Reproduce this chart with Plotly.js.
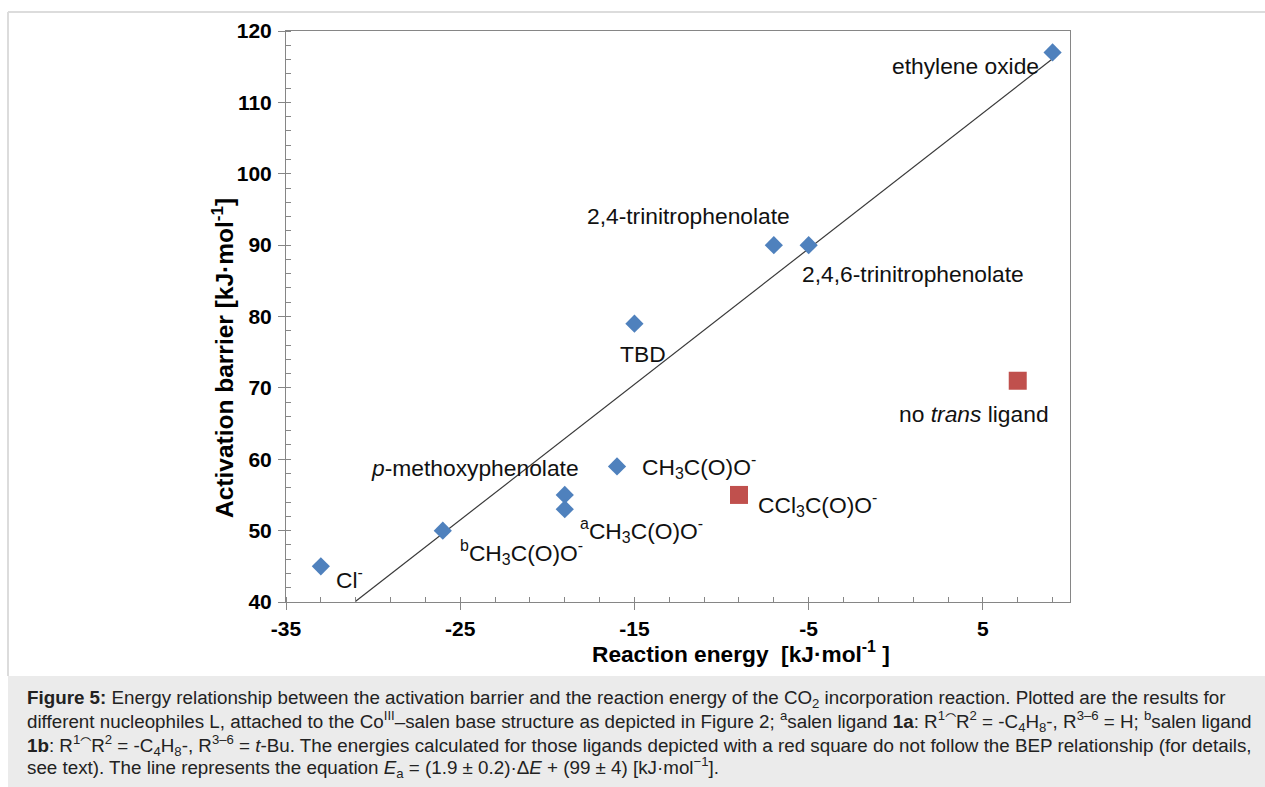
<!DOCTYPE html>
<html>
<head>
<meta charset="utf-8">
<script src="https://cdn.plot.ly/plotly-3.0.1.min.js"></script>
<style>
html,body{margin:0;padding:0;background:#fff;}
#chart{width:1265px;height:787px;}
</style>
</head>
<body>
<div id="chart"></div>
<script>
// ---- data ----
const fitNames = ["Cl<sup>-</sup>", "<sup>b</sup>CH<sub>3</sub>C(O)O<sup>-</sup>", "<sup>a</sup>CH<sub>3</sub>C(O)O<sup>-</sup>",
  "<i>p</i>-methoxyphenolate", "CH<sub>3</sub>C(O)O<sup>-</sup>", "TBD", "2,4-trinitrophenolate",
  "2,4,6-trinitrophenolate", "ethylene oxide"];
const fitEnergy  = [-33, -26, -19, -19, -16, -15, -7, -5, 9];
const fitBarrier = [45, 50, 53, 55, 59, 79, 90, 90, 117];

const outNames   = ["CCl<sub>3</sub>C(O)O<sup>-</sup>", "no <i>trans</i> ligand"];
const outEnergy  = [-9, 7];
const outBarrier = [55, 71];

const lineEnergy  = [-31, 9];
const lineBarrier = [40.1, 116.1];

const xTicks = [-35, -25, -15, -5, 5];
const xTickText = ["-35", "-25", "-15", "-5", "5"];
const yTicks = [40, 50, 60, 70, 80, 90, 100, 110, 120];

// ---- label placement (pixel offsets from each point) ----
const fitLabelPos = [
  {xa:'left',  dx:13, dy:-12},
  {xa:'left',  dx:15, dy:-22},
  {xa:'left',  dx:13, dy:-21},
  {xa:'right', dx:16, dy:27},
  {xa:'left',  dx:23, dy:0},
  {xa:'center',dx:9,  dy:-30},
  {xa:'right', dx:18, dy:29},
  {xa:'left',  dx:-9, dy:-29},
  {xa:'right', dx:-12,dy:-14}
];
const outLabelPos = [
  {xa:'left',  dx:17, dy:-10},
  {xa:'right', dx:33, dy:-33}
];

const FONT = "Liberation Sans, Arial, sans-serif";
const L = 286, R = 1070, T = 31, B = 602, W = 1265, H = 787;
const px = x => (x - L) / (R - L);
const py = y => (B - y) / (B - T);

const annotations = [];
fitNames.forEach((t, i) => annotations.push({
  x: fitEnergy[i], y: fitBarrier[i], xref: 'x', yref: 'y', text: t, showarrow: false,
  xanchor: fitLabelPos[i].xa, yanchor: 'middle', xshift: fitLabelPos[i].dx, yshift: fitLabelPos[i].dy,
  font: {family: FONT, size: 22.8, color: '#111'}
}));
outNames.forEach((t, i) => annotations.push({
  x: outEnergy[i], y: outBarrier[i], xref: 'x', yref: 'y', text: t, showarrow: false,
  xanchor: outLabelPos[i].xa, yanchor: 'middle', xshift: outLabelPos[i].dx, yshift: outLabelPos[i].dy,
  font: {family: FONT, size: 22.8, color: '#111'}
}));

// axis titles
annotations.push({xref:'paper', yref:'paper', x: px(741), y: py(652), text:'<b>Reaction energy  [kJ·mol<sup>-1</sup> ]</b>',
  showarrow:false, xanchor:'center', yanchor:'middle', font:{family:FONT, size:22.7, color:'#000'}});
annotations.push({xref:'paper', yref:'paper', x: px(222), y: py(358), text:'<b>Activation barrier [kJ·mol<sup>-1</sup>]</b>',
  showarrow:false, xanchor:'center', yanchor:'middle', textangle:-90, font:{family:FONT, size:24.5, color:'#000'}});

// caption
const captionLines = [
  "<b>Figure 5:</b> Energy relationship between the activation barrier and the reaction energy of the CO<sub>2</sub> incorporation reaction. Plotted are the results for",
  "different nucleophiles L, attached to the Co<sup>III</sup>–salen base structure as depicted in Figure 2; <sup>a</sup>salen ligand <b>1a</b>: R<sup>1</sup>⁀R<sup>2</sup> = -C<sub>4</sub>H<sub>8</sub>-, R<sup>3–6</sup> = H; <sup>b</sup>salen ligand",
  "<b>1b</b>: R<sup>1</sup>⁀R<sup>2</sup> = -C<sub>4</sub>H<sub>8</sub>-, R<sup>3–6</sup> = <i>t</i>-Bu. The energies calculated for those ligands depicted with a red square do not follow the BEP relationship (for details,",
  "see text). The line represents the equation <i>E</i><sub>a</sub> = (1.9 ± 0.2)·Δ<i>E</i> + (99 ± 4) [kJ·mol<sup>−1</sup>]."
];
const captionY = [699, 721, 745, 767];
captionLines.forEach((t, i) => annotations.push({
  xref:'paper', yref:'paper', x: px(25), y: py(captionY[i]), text: t, showarrow:false,
  xanchor:'left', yanchor:'middle', font:{family:FONT, size:18.8, color:'#222'}
}));

const shapes = [
  {type:'rect', xref:'paper', yref:'paper', x0:px(8), x1:px(W+5), y0:py(676), y1:py(H+5),
   fillcolor:'#ebebeb', line:{width:0}, layer:'below'},
  {type:'line', xref:'paper', yref:'paper', x0:px(8), x1:px(W+5), y0:py(12), y1:py(12),
   line:{color:'#dcdcdc', width:2}},
  {type:'line', xref:'paper', yref:'paper', x0:px(8), x1:px(8), y0:py(12), y1:py(676),
   line:{color:'#dcdcdc', width:2}}
];

const traces = [
  {x: lineEnergy, y: lineBarrier, mode:'lines', line:{color:'#3a3a3a', width:1.2}, hoverinfo:'skip'},
  {x: fitEnergy, y: fitBarrier, mode:'markers', marker:{symbol:'diamond', size:14, color:'#4f81bd'}},
  {x: outEnergy, y: outBarrier, mode:'markers', marker:{symbol:'square', size:18, color:'#c0504d'}}
];

const axisCommon = {
  showgrid:false, zeroline:false, showline:true, linecolor:'#868686', linewidth:1, mirror:true,
  ticks:'outside', ticklen:7, tickcolor:'#868686', tickwidth:1,
  tickfont:{family:FONT, size:21, color:'#000', weight:'bold'}
};

const layout = {
  width: W, height: H,
  margin: {l: L, r: W - R, t: T, b: H - B},
  paper_bgcolor:'#fff', plot_bgcolor:'#fff',
  showlegend:false,
  xaxis: Object.assign({}, axisCommon, {
    range:[-35, 10], tickmode:'array', tickvals:xTicks, ticktext:xTickText, ticklabelstandoff:1,
    minor:{dtick:2, tick0:-35, ticks:'inside', ticklen:5, tickcolor:'#868686', showgrid:false}
  }),
  yaxis: Object.assign({}, axisCommon, {
    range:[40, 120], tickmode:'array', tickvals:yTicks, ticklabelstandoff:2,
    minor:{dtick:2, tick0:40, ticks:'inside', ticklen:5, tickcolor:'#868686', showgrid:false}
  }),
  annotations, shapes
};

Plotly.newPlot('chart', traces, layout, {staticPlot:true, displayModeBar:false});
</script>
</body>
</html>
